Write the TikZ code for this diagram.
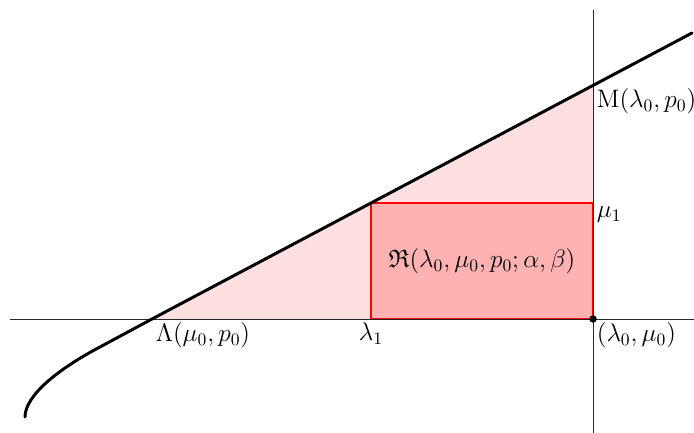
\documentclass[tikz,border=0pt]{standalone}
\usepackage{amsmath,amssymb}
\usepackage{tikz}
\usetikzlibrary{positioning,calc}

\begin{document}
\begin{tikzpicture}[
  axis/.style={draw=black!85,line width=0.5pt},
  region/.style={fill=red!12},
  rect/.style={draw=red,fill=red!30,line width=0.6pt},
  graph/.style={line width=1.7pt,black,line join=round,line cap=round},
  lbl/.style={font=\Large,inner sep=2pt}
]
  \useasboundingbox (-11.86,-2.28) rectangle (2.02,6.38);
  % key points
  \coordinate (O)  at (0,0);
  \coordinate (L)  at (-8.82,0);
  \coordinate (M)  at (0,4.68);
  \coordinate (l1) at (-4.44,0);
  \coordinate (m1) at (0,2.32);
  \coordinate (T)  at (1.98,5.72);
  \coordinate (B)  at (-11.36,-1.96);

  \fill[region] (L) -- (M) -- (O) -- cycle;
  \draw[rect] (l1) rectangle (m1);
  \draw[axis] (-11.66,0) -- (2.02,0);
  \draw[axis] (0,6.18) -- (0,-2.28);
  \draw[graph] (T) -- (L) -- (-9.86,-0.56)
    .. controls (-10.66,-0.98) and (-11.36,-1.52) .. (B);
  \fill (O) circle (0.075);

  \node[lbl,anchor=north west] (Mlab) at (M)  {$\mathrm{M}(\lambda_0,p_0)$};
  \node[lbl,anchor=north west] (m1lab) at (m1) {$\mu_1$};
  \node[lbl,anchor=north west] (Olab) at (O)  {$(\lambda_0,\mu_0)$};
  \node[lbl,anchor=north] (l1lab) at (l1) {$\lambda_1$};
  \node[lbl,anchor=north west] (Llab) at (L)  {$\Lambda(\mu_0,p_0)$};
  \node[lbl] (Rlab) at ($(l1)!0.5!(m1)$) {$\mathfrak{R}(\lambda_0,\mu_0,p_0;\alpha,\beta)$};
\end{tikzpicture}
\end{document}
